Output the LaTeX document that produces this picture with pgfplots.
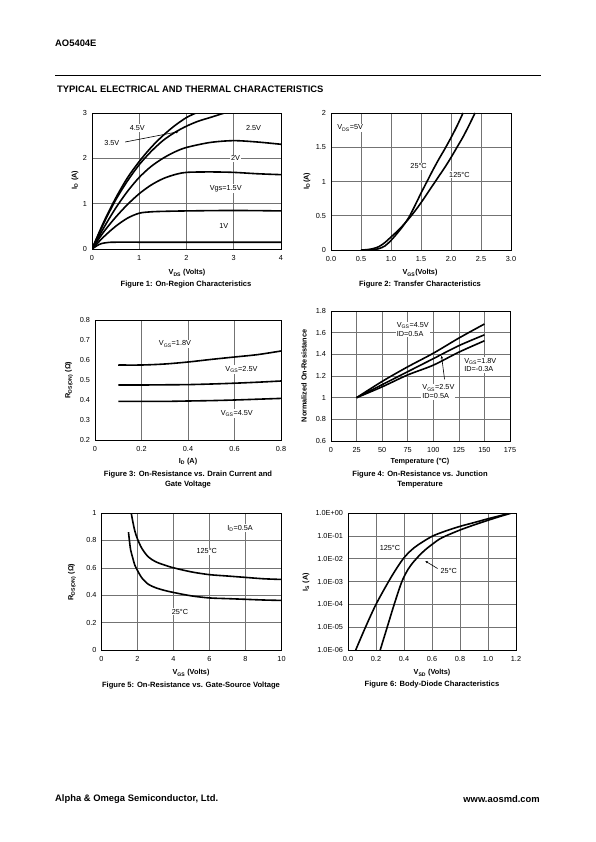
\documentclass[border=0pt]{standalone}
\usepackage{fontspec}
\setmainfont{Liberation Sans}
\usepackage{pgfplots}
\pgfplotsset{compat=1.18}
\usetikzlibrary{arrows.meta}

\pgfplotsset{
  ds/.style={
    scale only axis,
    axis line style={line width=0.9pt},
    tick style={draw=none},
    grid=major,
    major grid style={draw=black!55, line width=0.6pt},
    ticklabel style={font=\fontsize{7.3}{8}\selectfont},
    /pgf/number format/assume math mode=true,
    xticklabel style={yshift=-2.5pt},
    yticklabel style={xshift=-1.5pt},
  },
}
\tikzset{
  crv/.style={draw=black, line width=1.6pt, smooth, mark=none},
  lab/.style={font=\fontsize{7.3}{8.5}\selectfont, fill=white, inner sep=1pt},
  axl/.style={font=\bfseries\fontsize{7.3}{8.5}\selectfont, inner sep=0pt},
  figcap/.style={font=\bfseries\fontsize{7.6}{10}\selectfont, inner sep=0pt, align=center},
  hdr/.style={font=\bfseries\fontsize{9.4}{11}\selectfont, inner sep=0pt},
}

\begin{document}
\begin{tikzpicture}[x=1pt,y=-1pt]
\path[use as bounding box] (0,0) rectangle (595,842);

% header
\node[hdr, anchor=west] at (55,43) {AO5404E};
\draw[line width=0.9pt] (55,75) -- (541,75);
\node[hdr, anchor=west] at (57,89.5) {TYPICAL ELECTRICAL AND THERMAL CHARACTERISTICS};

% footer
\node[hdr, anchor=west] at (55,799) {Alpha \& Omega Semiconductor, Ltd.};
\node[hdr, anchor=east] at (540,799) {www.aosmd.com};

%================ Figure 1
\begin{axis}[ds, at={(92pt,-249pt)}, anchor=south west, width=189pt, height=136pt,
  xmin=0, xmax=4, ymin=0, ymax=3, xtick={0,1,2,3,4}, ytick={0,1,2,3}]
\addplot[crv] coordinates {(0,0) (0.25,0.6) (0.5,1.12) (0.75,1.57) (1,1.93) (1.25,2.24) (1.5,2.5) (1.75,2.72) (2,2.9) (2.2,3.0)};
\addplot[crv] coordinates {(0,0) (0.25,0.57) (0.5,1.08) (0.75,1.5) (1,1.86) (1.25,2.15) (1.5,2.39) (1.75,2.57) (2,2.71) (2.25,2.82) (2.5,2.9) (2.8,3.0)};
\addplot[crv] coordinates {(0,0) (0.25,0.47) (0.5,0.9) (0.75,1.27) (1,1.58) (1.25,1.82) (1.5,2.0) (1.75,2.14) (2,2.24) (2.5,2.35) (3,2.39) (3.5,2.36) (4,2.31)};
\addplot[crv] coordinates {(0,0) (0.25,0.38) (0.5,0.7) (0.75,0.98) (1,1.22) (1.25,1.41) (1.5,1.55) (1.75,1.64) (2,1.69) (2.5,1.7) (3,1.69) (3.5,1.66) (4,1.64)};
\addplot[crv] coordinates {(0,0) (0.25,0.27) (0.5,0.5) (0.75,0.68) (1,0.79) (1.25,0.82) (1.5,0.83) (2,0.84) (3,0.85) (4,0.84)};
\addplot[crv] coordinates {(0,0) (0.1,0.07) (0.2,0.12) (0.35,0.145) (0.5,0.15) (1,0.15) (2,0.15) (3,0.15) (4,0.15)};
\node[lab] at (axis cs:0.96,2.67) {4.5V};
\node[lab] at (axis cs:3.42,2.67) {2.5V};
\node[lab] at (axis cs:0.42,2.33) {3.5V};
\draw[line width=0.6pt, -{Latex[length=3pt,width=2.5pt]}] (axis cs:0.7,2.36) -- (axis cs:1.84,2.59);
\node[lab] at (axis cs:3.04,2.0) {2V};
\node[lab] at (axis cs:2.83,1.33) {Vgs=1.5V};
\node[lab] at (axis cs:2.79,0.5) {1V};
\end{axis}
\node[axl, rotate=90] at (75,180) {I\textsubscript{D} (A)};
\node[axl] at (187,273) {V\textsubscript{DS} (Volts)};
\node[figcap] at (186,285) {Figure 1: On-Region Characteristics};

%================ Figure 2
\begin{axis}[ds, at={(331pt,-250pt)}, anchor=south west, width=180pt, height=137pt,
  xmin=0, xmax=3, ymin=0, ymax=2, xtick={0,0.5,...,3.0}, ytick={0,0.5,1,1.5,2},
  xticklabel style={/pgf/number format/.cd, fixed, fixed zerofill, precision=1}]
\addplot[crv] coordinates {(0.6,0) (0.7,0.005) (0.8,0.02) (0.9,0.06) (1.0,0.14) (1.1,0.24) (1.2,0.35) (1.3,0.48) (1.4,0.65) (1.5,0.83) (1.6,1.0) (1.7,1.17) (1.8,1.33) (1.9,1.48) (2.0,1.64) (2.1,1.81) (2.2,2.0)};
\addplot[crv] coordinates {(0.5,0) (0.6,0.005) (0.7,0.02) (0.8,0.05) (0.9,0.11) (1.0,0.19) (1.1,0.27) (1.2,0.36) (1.3,0.46) (1.4,0.57) (1.5,0.69) (1.6,0.82) (1.7,0.95) (1.8,1.08) (1.9,1.21) (2.0,1.35) (2.1,1.5) (2.2,1.65) (2.3,1.82) (2.4,2.0)};
\node[lab] at (axis cs:0.32,1.78) {V\textsubscript{DS}=5V};
\node[lab] at (axis cs:1.46,1.22) {25°C};
\node[lab] at (axis cs:2.14,1.1) {125°C};
\end{axis}
\node[axl, rotate=90] at (307,181) {I\textsubscript{D}(A)};
\node[axl] at (420,273) {V\textsubscript{GS}(Volts)};
\node[figcap] at (420,285) {Figure 2: Transfer Characteristics};

%================ Figure 3
\begin{axis}[ds, at={(95pt,-440pt)}, anchor=south west, width=186pt, height=120pt,
  grid=none, xmajorgrids=true,
  xmin=0, xmax=0.8, ymin=0.2, ymax=0.8, xtick={0,0.2,0.4,0.6,0.8}, ytick={0.2,0.3,...,0.8},
  yticklabel style={/pgf/number format/.cd, fixed, fixed zerofill, precision=1}]
\addplot[crv] coordinates {(0.1,0.575) (0.2,0.575) (0.3,0.58) (0.4,0.59) (0.5,0.603) (0.6,0.615) (0.7,0.627) (0.8,0.645)};
\addplot[crv] coordinates {(0.1,0.475) (0.2,0.475) (0.3,0.476) (0.4,0.477) (0.5,0.48) (0.6,0.484) (0.7,0.489) (0.8,0.495)};
\addplot[crv] coordinates {(0.1,0.393) (0.2,0.393) (0.3,0.393) (0.4,0.395) (0.5,0.397) (0.6,0.4) (0.7,0.404) (0.8,0.408)};
\node[lab] at (axis cs:0.344,0.68) {V\textsubscript{GS}=1.8V};
\node[lab] at (axis cs:0.63,0.553) {V\textsubscript{GS}=2.5V};
\node[lab] at (axis cs:0.61,0.333) {V\textsubscript{GS}=4.5V};
\end{axis}
\node[axl, rotate=90] at (69,380) {R\textsubscript{DS(ON)} (Ω)};
\node[axl] at (188,462) {I\textsubscript{D} (A)};
\node[figcap] at (188,480) {Figure 3: On-Resistance vs. Drain Current and\\Gate Voltage};

%================ Figure 4
\begin{axis}[ds, at={(331pt,-441pt)}, anchor=south west, width=179pt, height=130pt,
  xmin=0, xmax=175, ymin=0.6, ymax=1.8, xtick={0,25,...,175}, ytick={0.6,0.8,1,1.2,1.4,1.6,1.8}]
\addplot[crv] coordinates {(25,1) (50,1.15) (75,1.285) (100,1.41) (125,1.55) (150,1.68)};
\addplot[crv] coordinates {(25,1) (50,1.12) (75,1.24) (100,1.36) (125,1.48) (150,1.58)};
\addplot[crv] coordinates {(25,1) (50,1.1) (75,1.21) (100,1.3) (125,1.42) (150,1.525)};
\node[lab, align=left] at (axis cs:80,1.63) {V\textsubscript{GS}=4.5V\\ID=0.5A};
\node[lab, align=left] at (axis cs:146,1.30) {V\textsubscript{GS}=1.8V\\ID=-0.3A};
\node[lab, align=left] at (axis cs:105,1.055) {V\textsubscript{GS}=2.5V\\ID=0.5A};
\draw[line width=0.6pt, -{Latex[length=3pt,width=2.5pt]}] (axis cs:111,1.17) -- (axis cs:108,1.39);
\end{axis}
\node[axl, rotate=90] at (304,376) {Normalized On-Resistance};
\node[axl] at (420,462) {Temperature (°C)};
\node[figcap] at (420,480) {Figure 4: On-Resistance vs. Junction\\Temperature};

%================ Figure 5
\begin{axis}[ds, at={(101.5pt,-650pt)}, anchor=south west, width=180pt, height=137pt,
  xmin=0, xmax=10, ymin=0, ymax=1, xtick={0,2,...,10}, ytick={0,0.2,...,1}]
\addplot[crv] coordinates {(1.65,1.0) (1.75,0.93) (1.85,0.87) (2,0.81) (2.25,0.74) (2.6,0.68) (3,0.645) (3.5,0.62) (4,0.6) (5,0.57) (6,0.55) (7,0.54) (8,0.53) (9,0.52) (10,0.515)};
\addplot[crv] coordinates {(1.5,0.86) (1.55,0.8) (1.62,0.73) (1.74,0.67) (1.85,0.62) (2,0.58) (2.25,0.525) (2.6,0.48) (3,0.455) (3.5,0.435) (4,0.42) (5,0.395) (6,0.38) (7,0.375) (8,0.37) (9,0.365) (10,0.362)};
\node[lab] at (axis cs:7.7,0.89) {I\textsubscript{D}=0.5A};
\node[lab] at (axis cs:5.85,0.72) {125°C};
\node[lab] at (axis cs:4.36,0.28) {25°C};
\end{axis}
\node[axl, rotate=90] at (72,582) {R\textsubscript{DS(ON)} (Ω)};
\node[axl] at (191,673) {V\textsubscript{GS} (Volts)};
\node[figcap] at (191,686) {Figure 5: On-Resistance vs. Gate-Source Voltage};

%================ Figure 6
\begin{axis}[ds, at={(348pt,-650pt)}, anchor=south west, width=168pt, height=137pt,
  ymode=log, xmin=0, xmax=1.2, ymin=1e-6, ymax=1, xtick={0,0.2,...,1.2},
  ytick={1e-6,1e-5,1e-4,1e-3,1e-2,1e-1,1},
  yticklabels={1.0E-06,1.0E-05,1.0E-04,1.0E-03,1.0E-02,1.0E-01,1.0E+00},
  xticklabel style={/pgf/number format/.cd, fixed, fixed zerofill, precision=1}]
\addplot[crv] coordinates {(0.055,1e-6) (0.125,1e-5) (0.2,1e-4) (0.29,1e-3) (0.35,4e-3) (0.4,0.011) (0.45,0.023) (0.5,0.04) (0.6,0.095) (0.7,0.165) (0.8,0.26) (0.9,0.38) (1.0,0.56) (1.1,0.8) (1.16,1)};
\addplot[crv] coordinates {(0.23,1e-6) (0.28,1e-5) (0.33,1e-4) (0.385,1e-3) (0.43,3.5e-3) (0.47,7.5e-3) (0.5,0.012) (0.55,0.024) (0.6,0.042) (0.65,0.07) (0.7,0.1) (0.8,0.18) (0.9,0.3) (1.0,0.48) (1.1,0.75) (1.17,1)};
\node[lab] at (axis cs:0.30,0.029) {125°C};
\node[lab] at (axis cs:0.72,0.0029) {25°C};
\draw[line width=0.6pt, -{Latex[length=3pt,width=2.5pt]}] (axis cs:0.64,0.0037) -- (axis cs:0.55,0.008);
\end{axis}
\node[axl, rotate=90] at (306,582) {I\textsubscript{S} (A)};
\node[axl] at (432,673) {V\textsubscript{SD} (Volts)};
\node[figcap] at (432,685) {Figure 6: Body-Diode Characteristics};
\end{tikzpicture}
\end{document}
